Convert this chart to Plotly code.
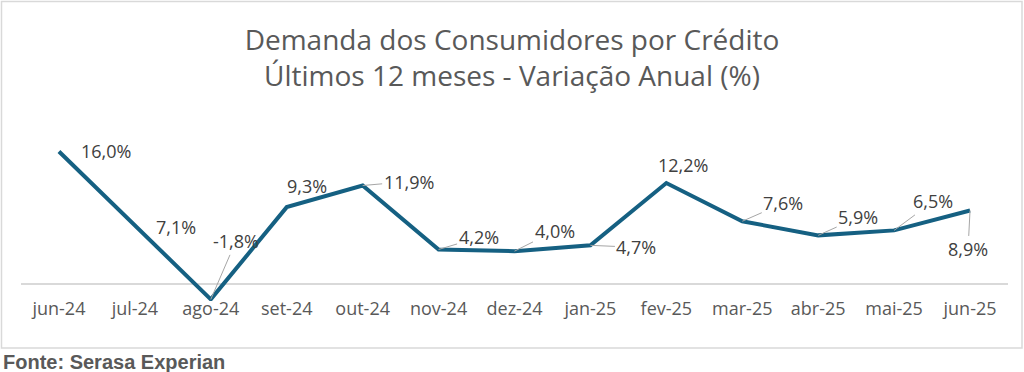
import plotly.graph_objects as go

categories = ["jun-24", "jul-24", "ago-24", "set-24", "out-24", "nov-24", "dez-24",
              "jan-25", "fev-25", "mar-25", "abr-25", "mai-25", "jun-25"]
values = [16.0, 7.1, -1.8, 9.3, 11.9, 4.2, 4.0, 4.7, 12.2, 7.6, 5.9, 6.5, 8.9]
labels = ["16,0%", "7,1%", "-1,8%", "9,3%", "11,9%", "4,2%", "4,0%",
          "4,7%", "12,2%", "7,6%", "5,9%", "6,5%", "8,9%"]

# label offsets in pixels (dx, dy) and whether a leader line is drawn
offsets = [(47, 0), (41, 2), (25, -58), (20, -21), (46, -4), (40, -12), (40, -20),
           (46, 2), (17, -18), (41, -18), (40, -18), (39, -29), (-2, 39)]
leaders = [False, False, True, False, True, True, True, True, False, True, True, True, True]

W, H = 1024, 372
ML, MR, MT, MB = 21, 16, 139, 71
PW, PH = W - ML - MR, H - MT - MB

def px_x(p):
    return (p - ML) / PW

def px_y(p):
    return (H - MB - p) / PH

FONT = "Open Sans"
LINE_COLOR = "#156082"

fig = go.Figure()
fig.add_trace(go.Scatter(
    x=list(range(len(categories))), y=values, mode="lines",
    line=dict(color=LINE_COLOR, width=4), hoverinfo="skip", showlegend=False,
))

annotations = []
for i, (v, t) in enumerate(zip(values, labels)):
    dx, dy = offsets[i]
    annotations.append(dict(
        x=i, y=v, xref="x", yref="y", text=t, showarrow=True,
        ax=dx, ay=dy, axref="pixel", ayref="pixel",
        arrowhead=0, arrowwidth=1,
        arrowcolor="#a6a6a6" if leaders[i] else "rgba(0,0,0,0)",
        standoff=0, startstandoff=0,
        font=dict(family=FONT, size=18, color="#404040"),
    ))

annotations.append(dict(
    x=px_x(1), y=px_y(362), xref="paper", yref="paper", xanchor="left", yanchor="middle",
    text="<b>Fonte: Serasa Experian</b>", showarrow=False,
    font=dict(family="Liberation Sans", size=20, color="#595959"),
))

fig.update_layout(
    width=W, height=H, margin=dict(l=ML, r=MR, t=MT, b=MB),
    paper_bgcolor="white", plot_bgcolor="white",
    title=dict(
        text="Demanda dos Consumidores por Crédito<br>Últimos 12 meses - Variação Anual (%)",
        x=0.5, xanchor="center", xref="container",
        y=1 - 50 / H, yanchor="middle", yref="container",
        font=dict(family=FONT, size=28, color="#595959"),
    ),
    xaxis=dict(
        tickmode="array", tickvals=list(range(len(categories))), ticktext=categories,
        range=[-0.5, len(categories) - 0.5], showgrid=False, showline=False, zeroline=False,
        tickfont=dict(family=FONT, size=18, color="#595959"), ticks="",
        anchor="free", position=px_y(295.5),
    ),
    yaxis=dict(
        range=[-2, 17.5], showgrid=False, showticklabels=False, showline=False,
        zeroline=True, zerolinecolor="#d9d9d9", zerolinewidth=1.5,
    ),
    annotations=annotations,
    shapes=[dict(
        type="rect", xref="paper", yref="paper",
        x0=px_x(1.5), x1=px_x(1022), y0=px_y(348), y1=px_y(1.5),
        line=dict(color="#d9d9d9", width=1.5), fillcolor="rgba(0,0,0,0)", layer="below",
    )],
)

fig.write_html("out.html", config={"displayModeBar": False},
               post_script="document.body.style.margin='0';")
